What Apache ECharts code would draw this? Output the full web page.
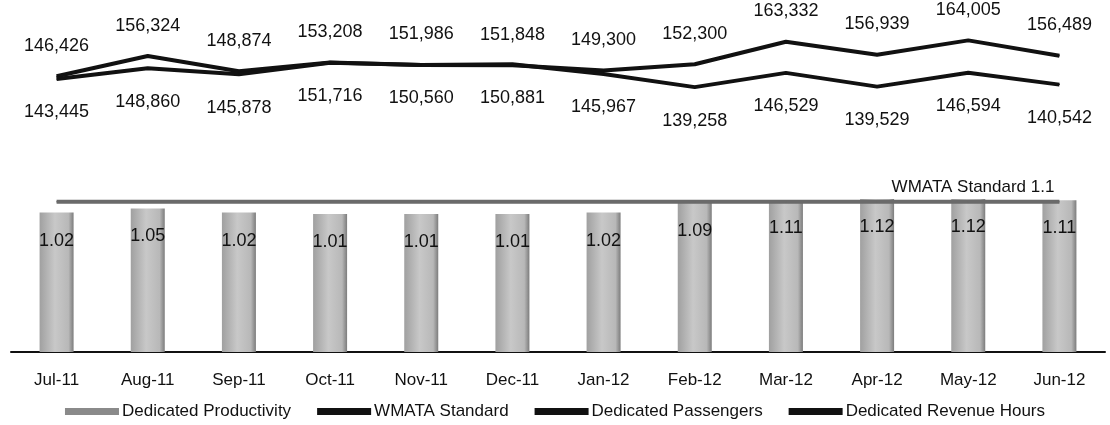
<!DOCTYPE html>
<html>
<head>
<meta charset="utf-8">
<script src="https://cdn.jsdelivr.net/npm/echarts@6/dist/echarts.min.js"></script>
<style>
  html, body { margin: 0; padding: 0; background: #fff; }
  #chart { width: 1110px; height: 425px; }
</style>
</head>
<body>
<div id="chart"></div>
<script>
// Monthly figures, July 2011 – June 2012
const months = ['Jul-11', 'Aug-11', 'Sep-11', 'Oct-11', 'Nov-11', 'Dec-11',
                'Jan-12', 'Feb-12', 'Mar-12', 'Apr-12', 'May-12', 'Jun-12'];
const productivity = [1.02, 1.05, 1.02, 1.01, 1.01, 1.01, 1.02, 1.09, 1.11, 1.12, 1.12, 1.11];
const wmataStandard = [1.1, 1.1, 1.1, 1.1, 1.1, 1.1, 1.1, 1.1, 1.1, 1.1, 1.1, 1.1];
const passengers = [146426, 156324, 148874, 153208, 151986, 151848,
                    149300, 152300, 163332, 156939, 164005, 156489];
const revenueHours = [143445, 148860, 145878, 151716, 150560, 150881,
                      145967, 139258, 146529, 139529, 146594, 140542];

const FONT = '"Liberation Sans", Arial, Helvetica, sans-serif';
const fmt = v => v.toLocaleString('en-US');

const chart = echarts.init(document.getElementById('chart'), null, { renderer: 'canvas' });

const barFill = new echarts.graphic.LinearGradient(0, 0, 1, 0, [
  { offset: 0, color: '#a0a0a0' },
  { offset: 0.45, color: '#c8c8c8' },
  { offset: 0.85, color: '#b8b8b8' },
  { offset: 1, color: '#7c7c7c' }
]);

// hidden point markers so the line labels still render
const hiddenPoint = { symbol: 'circle', symbolSize: 1, showSymbol: true };

chart.setOption({
  animation: false,
  backgroundColor: '#ffffff',
  textStyle: { fontFamily: FONT },
  grid: [
    { left: 11, right: 5, top: 20, height: 100 },   // passengers / revenue hours
    { left: 11, right: 5, top: 188, height: 164 }   // productivity bars
  ],
  xAxis: [
    { type: 'category', gridIndex: 0, data: months, show: false },
    {
      type: 'category', gridIndex: 1, data: months,
      axisLine: { lineStyle: { color: '#111', width: 2 } },
      axisTick: { show: false },
      axisLabel: { color: '#111', fontSize: 17, fontFamily: FONT, margin: 20 }
    }
  ],
  yAxis: [
    { type: 'value', gridIndex: 0, min: 125000, max: 174000, show: false },
    { type: 'value', gridIndex: 0, min: 122500, max: 173500, show: false },
    { type: 'value', gridIndex: 1, min: 0, max: 1.2, show: false }
  ],
  legend: {
    bottom: 0,
    left: 'center',
    itemGap: 26,
    itemWidth: 54,
    itemHeight: 7,
    textStyle: { color: '#111', fontSize: 17, fontFamily: FONT, padding: [0, 0, 0, -2] },
    data: [
      { name: 'Dedicated Productivity', icon: 'rect', itemStyle: { color: '#8a8a8a' } },
      { name: 'WMATA Standard', icon: 'rect', itemStyle: { color: '#111' } },
      { name: 'Dedicated Passengers', icon: 'rect', itemStyle: { color: '#111' } },
      { name: 'Dedicated Revenue Hours', icon: 'rect', itemStyle: { color: '#111' } }
    ]
  },
  series: [
    {
      name: 'Dedicated Productivity',
      type: 'bar',
      xAxisIndex: 1, yAxisIndex: 2,
      data: productivity,
      barWidth: 34,
      itemStyle: { color: barFill },
      label: {
        show: true,
        position: 'insideTop',
        distance: 19,
        color: '#111',
        fontSize: 18,
        fontFamily: FONT,
        formatter: p => p.value.toFixed(2)
      },
      z: 2
    },
    Object.assign({
      name: 'WMATA Standard',
      type: 'line',
      xAxisIndex: 1, yAxisIndex: 2,
      data: wmataStandard,
      itemStyle: { color: '#6a6a6a' },
      lineStyle: { color: '#6a6a6a', width: 4 },
      label: {
        show: true,
        position: 'top',
        align: 'right',
        distance: 5,
        offset: [-5, 0],
        color: '#111',
        fontSize: 17,
        fontFamily: FONT,
        formatter: p => p.dataIndex === months.length - 1 ? 'WMATA Standard ' + p.value : ''
      },
      z: 3
    }, hiddenPoint),
    Object.assign({
      name: 'Dedicated Passengers',
      type: 'line',
      xAxisIndex: 0, yAxisIndex: 0,
      data: passengers,
      itemStyle: { color: '#111' },
      lineStyle: { color: '#111', width: 4 },
      label: {
        show: true,
        position: 'top',
        distance: 21,
        color: '#111',
        fontSize: 18,
        fontFamily: FONT,
        formatter: p => fmt(p.value)
      }
    }, hiddenPoint),
    Object.assign({
      name: 'Dedicated Revenue Hours',
      type: 'line',
      xAxisIndex: 0, yAxisIndex: 1,
      data: revenueHours,
      itemStyle: { color: '#111' },
      lineStyle: { color: '#111', width: 4 },
      label: {
        show: true,
        position: 'bottom',
        distance: 24,
        color: '#111',
        fontSize: 18,
        fontFamily: FONT,
        formatter: p => fmt(p.value)
      }
    }, hiddenPoint)
  ]
});
</script>
</body>
</html>
